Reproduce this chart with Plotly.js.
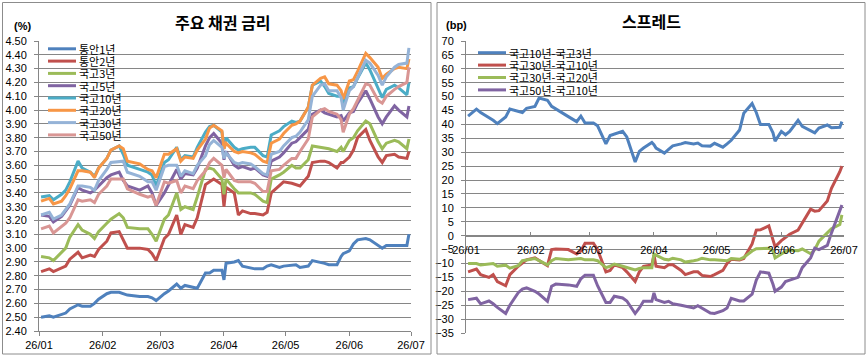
<!DOCTYPE html>
<html><head><meta charset="utf-8">
<script src="https://cdn.plot.ly/plotly-3.0.1.min.js"></script>
<style>html,body{margin:0;padding:0;background:#fff;}#chart{width:868px;height:359px;}</style>
</head><body><div id="chart"></div>
<script>
// ---------- data ----------
const dates = [
 '2026-01-02','2026-01-06','2026-01-08','2026-01-12','2026-01-14','2026-01-16','2026-01-20','2026-01-22','2026-01-26','2026-01-28','2026-01-30',
 '2026-02-03','2026-02-05','2026-02-09','2026-02-11','2026-02-13','2026-02-19','2026-02-23','2026-02-25','2026-02-27',
 '2026-03-03','2026-03-05','2026-03-09','2026-03-11','2026-03-13','2026-03-17','2026-03-19','2026-03-23','2026-03-25','2026-03-27','2026-03-31',
 '2026-04-01','2026-04-02','2026-04-06','2026-04-08','2026-04-10','2026-04-14','2026-04-16','2026-04-20','2026-04-22','2026-04-24','2026-04-28','2026-04-30',
 '2026-05-04','2026-05-06','2026-05-08','2026-05-12','2026-05-14','2026-05-18','2026-05-20','2026-05-22','2026-05-26','2026-05-28','2026-05-29',
 '2026-06-01','2026-06-03','2026-06-05','2026-06-09','2026-06-11','2026-06-15','2026-06-17','2026-06-19','2026-06-23','2026-06-25','2026-06-29','2026-06-30'
];
const rateNames = ['통안1년','통안2년','국고3년','국고5년','국고10년','국고20년','국고30년','국고50년'];
const msb1 = [2.50,2.51,2.50,2.52,2.53,2.56,2.59,2.58,2.58,2.60,2.63,
 2.67,2.68,2.68,2.67,2.66,2.65,2.65,2.64,2.62,
 2.67,2.69,2.74,2.71,2.73,2.72,2.71,2.82,2.82,2.84,2.84,
 2.77,2.89,2.90,2.91,2.87,2.86,2.85,2.85,2.87,2.88,2.86,2.87,
 2.88,2.88,2.86,2.87,2.91,2.90,2.89,2.88,2.88,2.94,2.96,
 2.98,3.03,3.06,3.07,3.06,3.02,3.00,3.02,3.02,3.02,3.02,3.10];
const msb2 = [2.83,2.85,2.83,2.86,2.87,2.92,2.97,2.93,2.95,2.94,2.99,
 3.05,3.11,3.12,3.06,3.00,3.00,2.99,2.96,2.91,
 3.07,3.10,3.24,3.10,3.17,3.15,3.22,3.46,3.48,3.50,3.46,
 3.30,3.44,3.40,3.24,3.27,3.25,3.25,3.24,3.26,3.40,3.45,3.48,
 3.47,3.46,3.45,3.52,3.62,3.63,3.63,3.62,3.58,3.62,3.62,
 3.66,3.71,3.80,3.86,3.78,3.66,3.62,3.67,3.68,3.66,3.65,3.70];
const ktb3 = [2.94,2.93,2.91,2.97,3.00,3.08,3.17,3.13,3.10,3.07,3.12,
 3.18,3.21,3.25,3.22,3.15,3.14,3.14,3.10,3.05,
 3.21,3.24,3.40,3.28,3.30,3.28,3.37,3.57,3.58,3.57,3.50,
 3.39,3.50,3.43,3.40,3.40,3.40,3.39,3.34,3.33,3.50,3.53,3.55,
 3.60,3.58,3.58,3.64,3.74,3.73,3.73,3.72,3.70,3.73,3.70,
 3.78,3.80,3.85,3.92,3.90,3.77,3.72,3.76,3.78,3.77,3.72,3.79];
const ktb5 = [3.24,3.23,3.19,3.23,3.27,3.31,3.44,3.42,3.40,3.42,3.45,
 3.51,3.53,3.55,3.49,3.45,3.42,3.45,3.40,3.31,
 3.40,3.46,3.57,3.50,3.54,3.53,3.58,3.74,3.80,3.83,3.76,
 3.64,3.70,3.60,3.58,3.59,3.57,3.58,3.53,3.52,3.63,3.66,3.69,
 3.76,3.77,3.80,3.86,3.97,4.00,3.98,3.97,3.95,3.96,3.92,
 3.98,3.99,4.05,4.14,4.08,3.95,3.90,3.95,4.03,4.00,3.95,4.03];
const ktb10 = [3.37,3.38,3.35,3.39,3.42,3.48,3.63,3.58,3.55,3.52,3.58,
 3.65,3.71,3.74,3.68,3.60,3.57,3.55,3.53,3.45,
 3.62,3.64,3.73,3.64,3.67,3.66,3.73,3.84,3.88,3.89,3.84,
 3.72,3.80,3.73,3.71,3.72,3.73,3.73,3.67,3.66,3.82,3.85,3.88,
 3.92,3.91,3.92,4.02,4.18,4.21,4.17,4.12,4.10,4.10,4.04,
 4.16,4.17,4.23,4.34,4.29,4.15,4.09,4.15,4.18,4.16,4.11,4.20];
const ktb20 = [3.34,3.36,3.32,3.34,3.38,3.43,3.56,3.56,3.55,3.51,3.58,
 3.65,3.71,3.74,3.72,3.63,3.61,3.57,3.56,3.51,
 3.68,3.68,3.72,3.63,3.66,3.65,3.71,3.79,3.87,3.89,3.85,
 3.72,3.76,3.70,3.69,3.70,3.69,3.68,3.63,3.62,3.76,3.79,3.83,
 3.89,3.90,3.92,4.02,4.18,4.23,4.24,4.19,4.18,4.14,4.08,
 4.21,4.22,4.28,4.41,4.38,4.31,4.23,4.26,4.30,4.31,4.30,4.37];
const ktb30 = [3.24,3.26,3.21,3.24,3.28,3.32,3.45,3.45,3.44,3.42,3.49,
 3.57,3.62,3.63,3.63,3.55,3.52,3.48,3.48,3.42,
 3.59,3.60,3.60,3.52,3.56,3.54,3.60,3.67,3.75,3.78,3.73,
 3.65,3.69,3.62,3.61,3.62,3.61,3.59,3.54,3.53,3.68,3.70,3.74,
 3.80,3.81,3.84,3.93,4.10,4.18,4.19,4.14,4.14,4.09,4.00,
 4.14,4.17,4.23,4.36,4.34,4.25,4.18,4.24,4.31,4.33,4.34,4.45];
const ktb50 = [3.14,3.16,3.11,3.16,3.18,3.22,3.35,3.34,3.35,3.33,3.39,
 3.45,3.50,3.50,3.50,3.43,3.39,3.37,3.38,3.31,
 3.48,3.47,3.49,3.40,3.45,3.43,3.49,3.56,3.62,3.65,3.60,
 3.51,3.57,3.49,3.48,3.48,3.48,3.47,3.41,3.41,3.56,3.57,3.60,
 3.65,3.65,3.70,3.79,3.95,4.00,4.01,3.99,3.97,3.93,3.84,
 3.97,4.01,4.07,4.19,4.18,4.07,4.05,4.10,4.15,4.17,4.20,4.31];

const spreadNames = ['국고10년-국고3년','국고30년-국고10년','국고30년-국고20년','국고50년-국고10년'];
const sp10_3 = [43,45.5,44.3,42.5,41.5,40.3,42.7,45.5,44.8,44.3,45.8,
 46.5,49.5,48.7,46.5,45.5,42.8,41,43,40.5,
 40.5,39.5,33,36,36.5,37.5,35.5,26.5,30.3,31.5,33.5,
 32.7,31.5,29.7,31,32.3,33,33.5,33,33.3,32.3,32.2,33.2,
 31.8,33,34.3,38,44,47.5,44.3,40,40,37,34,
 37.5,36.3,37.5,41.5,39.3,37.8,37,38.7,39.8,38.8,39,41];
const sp30_10 = [-13,-12,-14,-15,-14,-16.5,-18,-14,-11,-10,-8.7,
 -8,-9,-10.8,-5,-4.8,-5,-6.6,-5.5,-2.7,
 -2.7,-5,-13,-12.5,-10.5,-11.5,-13,-16.5,-13,-11,-10.5,
 -7,-11,-11.5,-10.5,-10.5,-12.5,-14,-13,-13,-14.3,-14.7,-14,
 -12.5,-10,-8.5,-8.7,-8.2,-3,2,2.1,3.5,-1.5,-4,
 -1.8,-0.5,0.5,2,4.5,9.5,8.8,9,12.5,17,23,25];
const sp30_20 = [-10,-10,-10.5,-10.3,-10,-11,-10.6,-11.7,-10.8,-9,-8.7,
 -8.2,-9,-10.5,-9,-8.2,-8.7,-8.5,-8.2,-8.7,
 -8.7,-9,-11.5,-11,-10.2,-11,-11.5,-12.3,-11.8,-11.5,-11.5,
 -6.6,-7,-8.5,-8.7,-8.1,-8.7,-9.5,-9,-8.7,-8.1,-8.7,-8.7,
 -9,-9,-8.2,-8.5,-7.8,-5.5,-4.7,-4.7,-4.5,-5.5,-8,
 -6.6,-5.7,-5.2,-5.4,-4.8,-6.5,-5,-2,1,2.5,4,7.5];
const sp50_10 = [-23,-22.5,-24.5,-23.5,-24.5,-25.8,-28,-25,-20.5,-19.2,-18.8,
 -20,-21,-23.6,-18.2,-17.4,-17.7,-18.2,-15.5,-14.2,
 -14.2,-18,-24,-24,-21.8,-22.4,-23.5,-28,-26,-23.6,-23.6,
 -20.6,-23,-24,-23.6,-24.5,-25,-25.4,-26,-25.2,-26,-27.8,-28,
 -27,-26,-22.5,-23.5,-23.5,-21,-16,-13,-13.5,-17.5,-20,
 -18.5,-16.5,-16,-15,-11.5,-8,-4.5,-5,-3.5,1,9,11];

// ---------- styling ----------
const rateColors = ['#4F81BD','#C0504D','#9BBB59','#8064A2','#4BACC6','#F79646','#95B3D7','#D99694'];
const spreadColors = ['#4F81BD','#C0504D','#9BBB59','#8064A2'];
const rateSeries = [msb1,msb2,ktb3,ktb5,ktb10,ktb20,ktb30,ktb50];
const spreadSeries = [sp10_3,sp30_10,sp30_20,sp50_10];

const W = 868, H = 359;
const px = x => x / W, py = y => 1 - y / H;
const GRID = '#868686';
const KFONT = '"Noto Sans CJK KR", "Noto Sans", sans-serif';
const LFONT = 'Liberation Sans, Arial, sans-serif';

const traces = [];
rateSeries.forEach((s, i) => traces.push({
  x: dates, y: s, name: rateNames[i], type: 'scatter', mode: 'lines',
  line: {color: rateColors[i], width: 3}, xaxis: 'x', yaxis: 'y', showlegend: false
}));
spreadSeries.forEach((s, i) => traces.push({
  x: dates, y: s, name: spreadNames[i], type: 'scatter', mode: 'lines',
  line: {color: spreadColors[i], width: 3}, xaxis: 'x2', yaxis: 'y2', showlegend: false
}));

const shapes = [
  {type:'rect', xref:'paper', yref:'paper', x0:px(2.5), x1:px(431), y0:py(354), y1:py(2.5), line:{color:'#8c8c8c', width:1}},
  {type:'rect', xref:'paper', yref:'paper', x0:px(437), x1:px(865), y0:py(354), y1:py(2.5), line:{color:'#8c8c8c', width:1}}
];
const annotations = [
  {text:'<b>주요 채권 금리</b>', xref:'paper', yref:'paper', x:px(223), y:py(22), xanchor:'center', yanchor:'middle', showarrow:false, font:{family:KFONT, size:16, color:'#000'}},
  {text:'<b>스프레드</b>', xref:'paper', yref:'paper', x:px(651), y:py(21), xanchor:'center', yanchor:'middle', showarrow:false, font:{family:KFONT, size:16, color:'#000'}},
  {text:'<b>(%)</b>', xref:'paper', yref:'paper', x:px(12), y:py(26), xanchor:'left', yanchor:'middle', showarrow:false, font:{family:LFONT, size:11, color:'#000'}},
  {text:'<b>(bp)</b>', xref:'paper', yref:'paper', x:px(444), y:py(25), xanchor:'left', yanchor:'middle', showarrow:false, font:{family:LFONT, size:11, color:'#000'}}
];
// compact hand-placed legends, as in the original
rateNames.forEach((n, i) => {
  const yy = 48.8 + i * 12.3;
  shapes.push({type:'line', xref:'paper', yref:'paper', x0:px(48), x1:px(76), y0:py(yy), y1:py(yy), line:{color:rateColors[i], width:3}});
  annotations.push({text:n, xref:'paper', yref:'paper', x:px(76.5), y:py(yy), xanchor:'left', yanchor:'middle', showarrow:false, font:{family:KFONT, size:11, color:'#000'}});
});
spreadNames.forEach((n, i) => {
  const yy = 52.7 + i * 12.4;
  shapes.push({type:'line', xref:'paper', yref:'paper', x0:px(478), x1:px(506), y0:py(yy), y1:py(yy), line:{color:spreadColors[i], width:3}});
  annotations.push({text:n, xref:'paper', yref:'paper', x:px(506.5), y:py(yy), xanchor:'left', yanchor:'middle', showarrow:false, font:{family:KFONT, size:11, color:'#000'}});
});

const dateAxis = {
  type:'date', range:['2026-01-01','2026-07-01'], tick0:'2026-01-01', dtick:'M1', tickformat:'%y/%m',
  showgrid:false, zeroline:false, showline:true, linecolor:GRID, linewidth:1,
  tickcolor:GRID, ticklen:4, tickfont:{family:LFONT, size:11, color:'#000'}
};
const layout = {
  width:W, height:H, margin:{l:0, r:0, t:0, b:0},
  paper_bgcolor:'#ffffff', plot_bgcolor:'rgba(0,0,0,0)', showlegend:false,
  font:{family:LFONT, size:11, color:'#000'},
  xaxis: Object.assign({}, dateAxis, {domain:[px(39), px(411)], anchor:'y', ticks:'outside'}),
  yaxis: {domain:[py(331), py(41)], anchor:'x', range:[2.4, 4.5], tick0:2.4, dtick:0.1, tickformat:'.2f',
          showgrid:true, gridcolor:GRID, gridwidth:1, zeroline:false, showline:true, linecolor:GRID,
          ticks:'outside', ticklen:4, tickcolor:GRID, ticklabelstandoff:5,
          tickfont:{family:LFONT, size:11, color:'#000'}},
  xaxis2: Object.assign({}, dateAxis, {domain:[px(466), px(844)], anchor:'free', position:py(235.6), ticks:'inside', ticklabelstandoff:4}),
  yaxis2: {domain:[py(333), py(41)], anchor:'x2', range:[-35, 70], tick0:0, dtick:5,
           showgrid:true, gridcolor:GRID, gridwidth:1, zeroline:false, showline:true, linecolor:GRID,
           ticks:'outside', ticklen:4, tickcolor:GRID, ticklabelstandoff:5,
           tickfont:{family:LFONT, size:11, color:'#000'}},
  shapes: shapes, annotations: annotations
};
Plotly.newPlot('chart', traces, layout, {displayModeBar:false, staticPlot:true});
</script>
</body></html>
